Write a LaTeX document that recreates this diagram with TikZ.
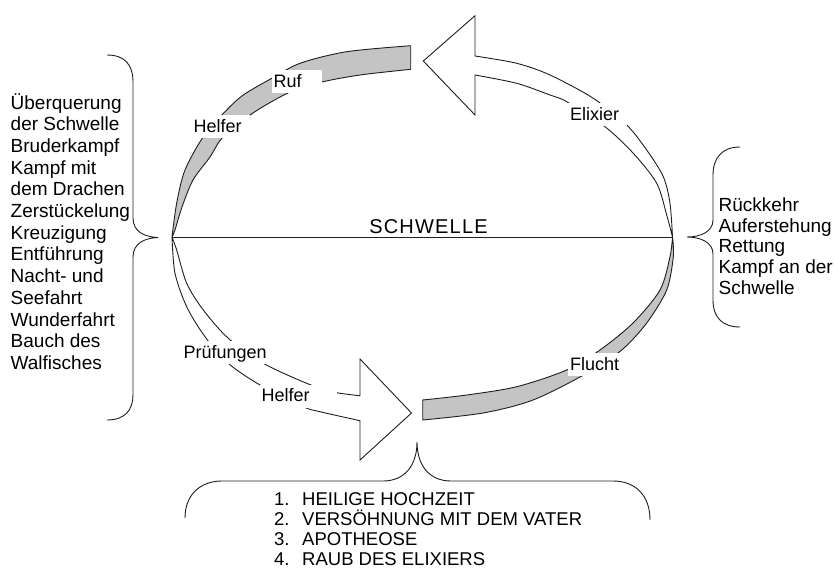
\documentclass[tikz,border=0pt]{standalone}
\usepackage{fontspec}
\setmainfont{Liberation Sans}
\newfontfamily\spacedfont[LetterSpace=6]{Liberation Sans}
\newcommand\lblfnt{\fontsize{18}{21}\selectfont}
\newcommand\lstfnt{\fontsize{19}{22}\selectfont}
\definecolor{bandgray}{RGB}{196,196,196}
\definecolor{linecol}{RGB}{30,30,30}
\tikzset{
  band/.style={fill=bandgray, draw=linecol, line width=0.9pt, line join=round},
  outline/.style={draw=linecol, line width=0.9pt, line join=miter},
  curlyline/.style={draw=linecol, line width=0.9pt},
  lbl/.style={fill=white, inner xsep=2pt, inner ysep=2pt, text height=15pt,
              text depth=4pt, anchor=base west, align=left, font=\lblfnt},
  listtxt/.style={anchor=base west, inner sep=0pt, font=\lstfnt},
}
\begin{document}
\begin{tikzpicture}[x=1pt,y=-1pt]
\useasboundingbox (0,0) rectangle (834,570);

% end points of the threshold line
\coordinate (wl) at (172,237);
\coordinate (el) at (672.5,237);

% departure: grey band rising from the left end of the threshold
\filldraw[band] plot[smooth] coordinates {(172,237) (176.7,203) (185,170) (203.3,136.7)
   (225,111.7) (243.3,95) (270,79.3) (300,63.3) (346.7,51.7) (410.7,45.7)}
  -- (410.7,69.3)
  -- plot[smooth] coordinates {(410.7,69.3) (360,75) (322,82) (290,92) (253,113)
   (223,137) (210,157) (193,180) (182,207) (175,230) (172,237)} -- cycle;

% return: grey band from the bottom arrow back up to the right end
\filldraw[band] (422.7,400)
  -- plot[smooth] coordinates {(422.7,400) (466.7,395) (516.7,386.7) (566.7,370)
   (600,350) (633,323) (660,290) (670,256.7) (672.5,237)}
  -- plot[smooth] coordinates {(672.5,237) (673.3,256.7) (666.7,290) (646.7,323)
   (621.7,350) (586.7,373.3) (533,400) (483,413) (422.7,420)} -- cycle;

% white arrow of the elixir, pointing left at the top
\draw[outline] plot[smooth] coordinates {(672.5,237) (670,203.3) (663.3,176.7)
   (646.7,150) (626.7,125) (593.3,98.3) (550,75) (516.7,63.3) (475,56)}
  -- (475,15.7) -- (423.3,61) -- (475,115) -- (475,75)
  -- plot[smooth] coordinates {(475,75) (516.7,83.3) (550,95) (566.7,101.7)
   (605,126.7) (633.3,153.3) (656.7,183.3) (666.7,215) (672.5,237)};

% white arrow of the trials, pointing right at the bottom
\draw[outline] plot[smooth] coordinates {(172,237) (175,273.3) (186.7,306.7)
   (205,336.7) (228.3,363.3) (260,385) (303.3,406.7) (320,411.7) (360,420.7)}
  -- (360,460) -- (411.5,413) -- (360,359) -- (360,395.7)
  -- plot[smooth] coordinates {(360,395.7) (333,392) (306.7,383.3) (263.3,363.3)
   (228.3,338.3) (203.3,310) (186.7,283.3) (176.7,250) (172,237)};

% threshold
\draw[outline] (wl) -- (el);
\node[anchor=base, inner sep=0pt, font=\spacedfont\fontsize{20}{24}\selectfont]
  (schwelle) at (428.5,233.3) {SCHWELLE};

% labels on the circle
\node[lbl, text width=46.5pt] (ruf) at (271.5,87) {Ruf};
\node[lbl, text width=54.5pt] (helferA) at (191.5,132) {Helfer};
\node[lbl, text width=55pt] (elixier) at (568,120) {Elixier};
\node[lbl, text width=50pt] (flucht) at (568,370) {Flucht};
\node[lbl, text width=84.5pt] (pruef) at (181.5,358.3) {Prüfungen};
\node[lbl, text width=73.5pt] (helferB) at (259.5,401.7) {Helfer};

% left brace and list
\draw[curlyline] (107,55) .. controls (125,55) and (133,65) .. (133,82)
  -- (133,218) .. controls (133,232) and (145,237) .. (158,237.5)
  .. controls (145,238) and (133,243) .. (133,257)
  -- (133,395) .. controls (133,410) and (125,420) .. (107,420);
\foreach \t [count=\i] in {Überquerung, der Schwelle, Bruderkampf, Kampf mit,
    dem Drachen, Zerstückelung, Kreuzigung, Entführung, Nacht- und, Seefahrt,
    Wunderfahrt, Bauch des, Walfisches}
  \node[listtxt] (left\i) at (10.5,{109.3+21.67*(\i-1)}) {\t};

% right brace and list
\draw[curlyline] (740,147) .. controls (722,147) and (713,158) .. (713,175)
  -- (713,220) .. controls (713,232) and (700,237) .. (687,237)
  .. controls (700,237) and (713,242) .. (713,254)
  -- (713,300) .. controls (713,317) and (722,327) .. (740,327);
\foreach \t [count=\i] in {Rückkehr, Auferstehung, Rettung, Kampf an der, Schwelle}
  \node[listtxt] (right\i) at (718.5,{211.7+20.6*(\i-1)}) {\t};

% bottom brace and numbered list
\draw[curlyline] (185,518) .. controls (185,495) and (200,481) .. (222,481)
  -- (383,481) .. controls (405,481) and (417,465) .. (417,442)
  .. controls (417,465) and (429,481) .. (451,481)
  -- (613,481) .. controls (635,481) and (650,495) .. (650,520);
\foreach \t [count=\i] in {HEILIGE HOCHZEIT, VERSÖHNUNG MIT DEM VATER,
    APOTHEOSE, RAUB DES ELIXIERS}
  {\node[listtxt, font=\fontsize{18.5}{20}\selectfont] (num\i) at (274,{505+20*(\i-1)}) {\i.};
   \node[listtxt, font=\fontsize{18.5}{20}\selectfont] (item\i) at (302,{505+20*(\i-1)}) {\t};}
\end{tikzpicture}
\end{document}
